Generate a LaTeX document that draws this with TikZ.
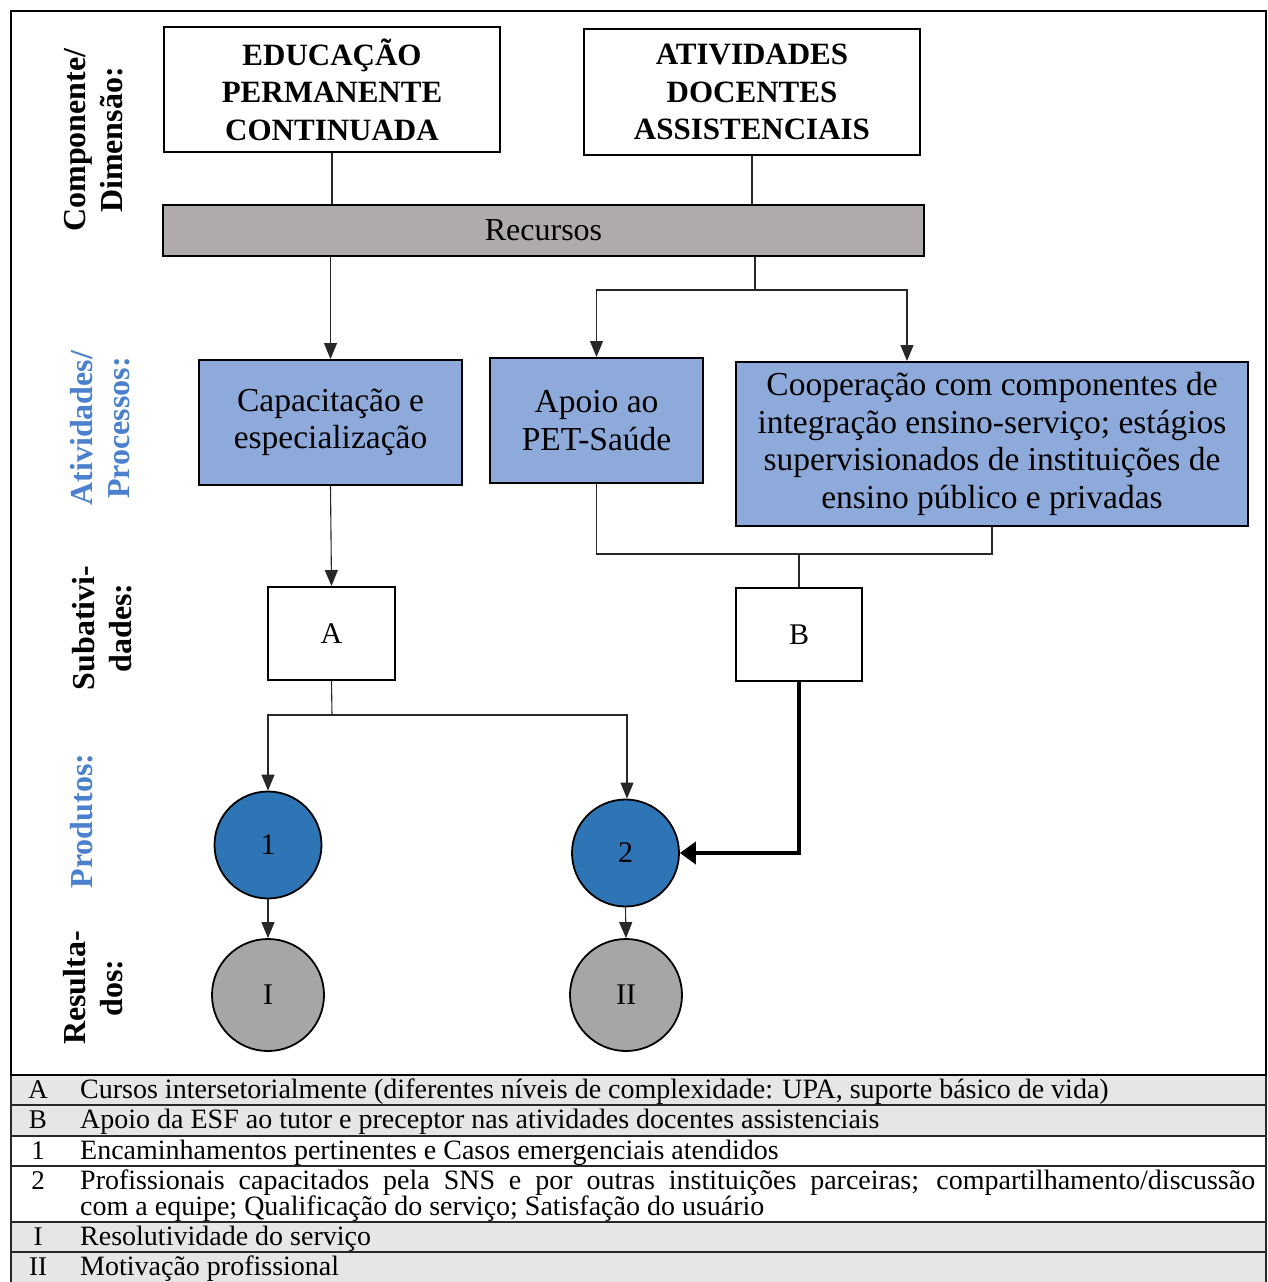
\documentclass[tikz,border=0pt]{standalone}
\usepackage{fontspec}
\setmainfont{Liberation Serif}
\usetikzlibrary{arrows.meta,calc}
\definecolor{actblue}{RGB}{142,170,219}
\definecolor{circblue}{RGB}{46,117,182}
\definecolor{lblblue}{RGB}{74,128,205}
\definecolor{recgray}{RGB}{175,171,170}
\definecolor{resgray}{RGB}{166,166,166}
\definecolor{leggray}{RGB}{230,230,230}
\definecolor{linegray}{RGB}{40,40,40}
\tikzset{
  lbl/.style={rotate=90, align=center, font=\fontsize{32}{37}\selectfont\bfseries},
  topbox/.style={draw, line width=2pt, fill=white, align=center, inner sep=0pt, font=\fontsize{31}{37.5}\selectfont\bfseries},
  recbox/.style={draw, line width=2pt, fill=recgray, align=center, inner sep=0pt, font=\fontsize{32}{37.5}\selectfont},
  actbox/.style={draw, line width=2pt, fill=actblue, align=center, inner sep=0pt, font=\fontsize{33.5}{37.5}\selectfont},
  subbox/.style={draw, line width=2pt, fill=white, inner sep=0pt, font=\fontsize{30}{36}\selectfont},
  prod/.style={circle, draw, line width=1.8pt, fill=circblue, inner sep=0pt, minimum size=107pt, font=\fontsize{30}{36}\selectfont},
  res/.style={circle, draw, line width=1.8pt, fill=resgray, inner sep=0pt, minimum size=112pt, font=\fontsize{30}{36}\selectfont},
  conn/.style={draw=linegray, line width=1.1pt},
  arr/.style={conn, -{Triangle[width=13pt,length=16pt]}},
  thickarr/.style={draw=black, line width=4.5pt, -{Triangle[width=22pt,length=16pt]}},
  legrow/.style={draw=linegray, line width=2pt},
  legtxt/.style={anchor=base west, inner sep=0pt, font=\fontsize{28}{28}\selectfont},
  leglab/.style={anchor=base, inner sep=0pt, font=\fontsize{27}{27}\selectfont}
}
\begin{document}
\begin{tikzpicture}[x=1pt,y=-1pt]
\useasboundingbox (0,0) rectangle (1268,1282);
\fill[white] (0,0) rectangle (1268,1282);
% legend rows
\path[legrow, fill=leggray] (11,1075) rectangle (1266,1105);
\path[legrow, fill=leggray] (11,1105) rectangle (1266,1136);
\path[legrow, fill=white] (11,1136) rectangle (1266,1166);
\path[legrow, fill=white] (11,1166) rectangle (1266,1222);
\path[legrow, fill=leggray] (11,1222) rectangle (1266,1252);
\path[legrow, fill=leggray] (11,1252) rectangle (1266,1283);
% frame
\draw[line width=2pt] (11,11) rectangle (1266,1075);

% side labels
\node[lbl] (l1) at (94,140) {Componente/\\Dimensão:};
\node[lbl, text=lblblue] (l2) at (100,428) {Atividades/\\Processos:};
\node[lbl] (l3) at (102,628) {Subativi-\\dades:};
\node[lbl, text=lblblue] (l4) at (82,821) {Produtos:};
\node[lbl] (l5) at (93,988) {Resulta-\\dos:};

% boxes
\node[topbox, minimum width=336pt, minimum height=125pt] (edu) at (332,89.5) {EDUCAÇÃO\\PERMANENTE\\CONTINUADA};
\node[topbox, minimum width=336pt, minimum height=126pt] (ativ) at (752,92) {ATIVIDADES\\DOCENTES\\ASSISTENCIAIS};
\node[recbox, minimum width=761pt, minimum height=51pt] (rec) at (543.5,230.5) {Recursos};
\node[actbox, minimum width=263pt, minimum height=125pt] (cap) at (330.5,422.5) {Capacitação e\\especialização};
\node[actbox, minimum width=213pt, minimum height=125pt] (apoio) at (596.5,420.5) {Apoio ao\\PET-Saúde};
\node[actbox, minimum width=512pt, minimum height=164pt] (coop) at (992,444) {Cooperação com componentes de\\integração ensino-serviço; estágios\\supervisionados de instituições de\\ensino público e privadas};
\node[subbox, minimum width=127pt, minimum height=93pt] (A) at (331.5,633.5) {A};
\node[subbox, minimum width=126pt, minimum height=93pt] (B) at (799,634.5) {B};
\node[prod] (p1) at (268,845) {1};
\node[prod] (p2) at (625.5,853) {2};
\node[res] (r1) at (268,995) {I};
\node[res] (r2) at (626,995) {II};

% junctions
\coordinate (j1) at (755,290);
\coordinate (j2) at (799,554);
\coordinate (j3) at (332,715);

% connectors
\draw[conn] (edu.south) -- (edu.south |- rec.north);
\draw[conn] (ativ.south) -- (ativ.south |- rec.north);
\draw[arr] (rec.south -| cap.north) -- (cap.north);
\draw[conn] (rec.south -| j1) -- (j1);
\draw[arr] (j1) -| (apoio.north);
\draw[arr] (j1) -| ([xshift=-85pt]coop.north);
\draw[arr] (cap.south) -- (A.north);
\draw[conn] (apoio.south) |- (j2 -| coop.south) -- (coop.south);
\draw[conn] (j2) -- (B.north);
\draw[conn] (A.south) -- (j3);
\draw[arr] (j3) -| (p1.north);
\draw[arr] (j3) -| ([xshift=1.5pt]p2.north);
\draw[thickarr] (B.south) |- (p2.east);
\draw[arr] (p1.south) -- (r1.north);
\draw[arr] (p2.south) -- (r2.north);

% legend text
\node[leglab] (la) at (38,1098) {A};
\node[legtxt] (ta) at (80,1098) {Cursos intersetorialmente (diferentes níveis de complexidade: UPA, suporte básico de vida)};
\node[leglab] (lb) at (38,1128) {B};
\node[legtxt] (tb) at (80,1128) {Apoio da ESF ao tutor e preceptor nas atividades docentes assistenciais};
\node[leglab] (l1n) at (38,1159) {1};
\node[legtxt] (t1) at (80,1159) {Encaminhamentos pertinentes e Casos emergenciais atendidos};
\node[leglab] (l2n) at (38,1189) {2};
\node[legtxt] (t2a) at (80,1189) {\makebox[1175pt][s]{Profissionais capacitados pela SNS e por outras instituições parceiras; compartilhamento/discussão}};
\node[legtxt] (t2b) at (80,1215) {com a equipe; Qualificação do serviço; Satisfação do usuário};
\node[leglab] (lI) at (38,1245) {I};
\node[legtxt] (tI) at (80,1245) {Resolutividade do serviço};
\node[leglab] (lII) at (38,1275) {II};
\node[legtxt] (tII) at (80,1275) {Motivação profissional};
\end{tikzpicture}
\end{document}
